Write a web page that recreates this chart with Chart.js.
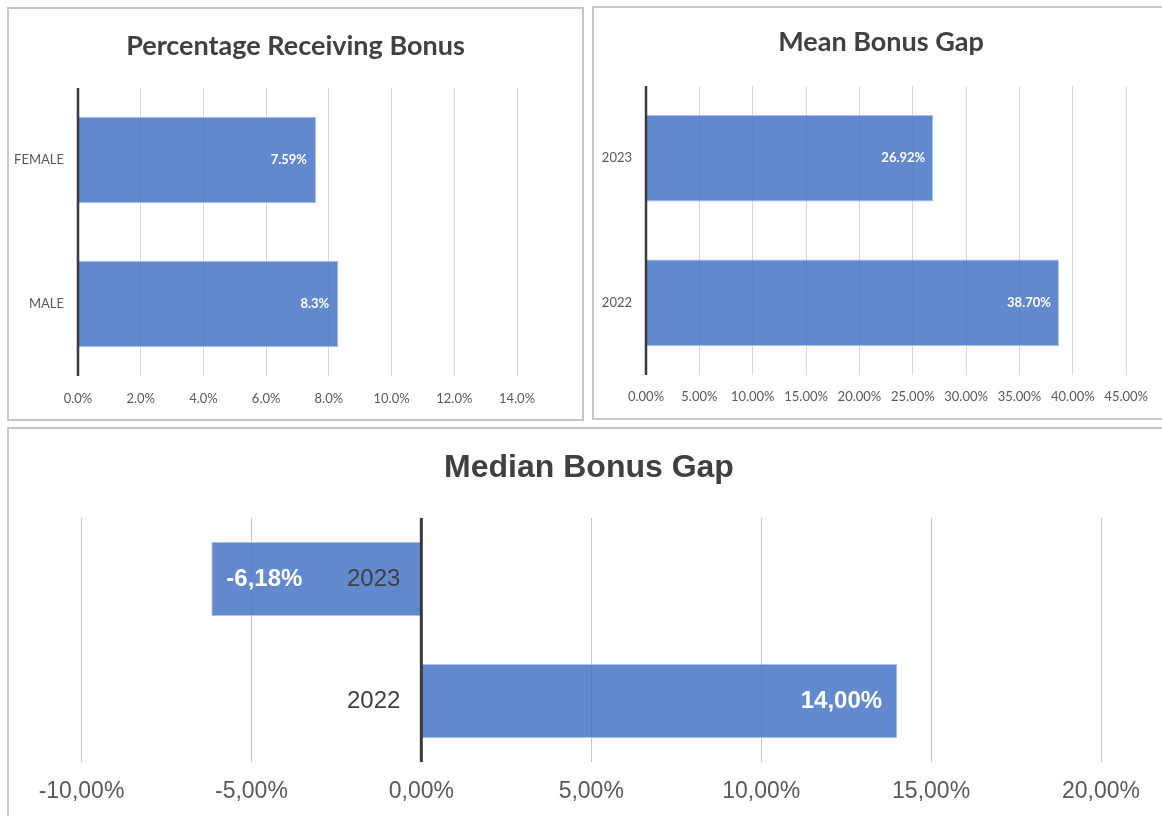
<!DOCTYPE html>
<html><head><meta charset="utf-8">
<script src="https://cdn.jsdelivr.net/npm/chart.js@4.4.1/dist/chart.umd.min.js"></script>
<style>
html,body{margin:0;padding:0;background:#fff;width:1162px;height:816px;overflow:hidden;}
body{position:relative;}
.panel{position:absolute;border:2px solid #c6c6c6;box-sizing:border-box;background:#fff;}
canvas{position:absolute;}
</style></head><body>
<div class="panel" style="left:7px;top:7px;width:577px;height:414px;"></div>
<div class="panel" style="left:592px;top:6px;width:580px;height:414px;"></div>
<div class="panel" style="left:7px;top:427px;width:1165px;height:400px;"></div>
<canvas id="c1" width="573" height="410" style="left:9px;top:9px"></canvas>
<canvas id="c2" width="568" height="409" style="left:594px;top:8px"></canvas>
<canvas id="c3" width="1153" height="386" style="left:9px;top:430px"></canvas>
<script>
// ---- data ----
const pctTitle = 'Percentage Receiving Bonus';
const pctCategories = ['FEMALE', 'MALE'];
const pctValues = [7.59, 8.3];
const pctLabels = ['7.59%', '8.3%'];
const pctAxis = {min: 0, max: 14, step: 2, decimals: 1, sep: '.'};

const meanTitle = 'Mean Bonus Gap';
const meanCategories = ['2023', '2022'];
const meanValues = [26.92, 38.70];
const meanLabels = ['26.92%', '38.70%'];
const meanAxis = {min: 0, max: 45, step: 5, decimals: 2, sep: '.'};

const medianTitle = 'Median Bonus Gap';
const medianCategories = ['2023', '2022'];
const medianValues = [-6.18, 14.00];
const medianLabels = ['-6,18%', '14,00%'];
const medianAxis = {min: -10, max: 20, step: 5, decimals: 2, sep: ','};

// ---- plugins ----
const titlePlugin = {
  id: 'panelTitle',
  afterDraw(chart, args, o) {
    const ctx = chart.ctx;
    ctx.save();
    ctx.font = o.font;
    ctx.fillStyle = o.color;
    ctx.textAlign = 'center';
    ctx.textBaseline = 'middle';
    ctx.fillText(o.text, o.x, o.y);
    ctx.restore();
  }
};
const zeroLinePlugin = {
  id: 'zeroLine',
  afterDatasetsDraw(chart, args, o) {
    const xs = chart.scales.x, a = chart.chartArea, ctx = chart.ctx;
    const px = xs.getPixelForValue(0);
    ctx.save();
    ctx.strokeStyle = o.color;
    ctx.lineWidth = o.width;
    ctx.beginPath();
    ctx.moveTo(px, a.top);
    ctx.lineTo(px, a.bottom);
    ctx.stroke();
    ctx.restore();
  }
};
const barLabelPlugin = {
  id: 'barLabels',
  afterDatasetsDraw(chart, args, o) {
    const ctx = chart.ctx;
    const meta = chart.getDatasetMeta(0);
    const vals = chart.data.datasets[0].data;
    ctx.save();
    ctx.font = o.font;
    ctx.fillStyle = o.color;
    ctx.textBaseline = 'middle';
    meta.data.forEach((bar, i) => {
      const v = vals[i];
      if (v >= 0) { ctx.textAlign = 'right'; ctx.fillText(o.labels[i], bar.x - o.inset, bar.y + (o.dy || 0)); }
      else { ctx.textAlign = 'left'; ctx.fillText(o.labels[i], bar.x + o.inset, bar.y + (o.dy || 0)); }
    });
    if (o.catLabels) {
      const px = chart.scales.x.getPixelForValue(0);
      ctx.font = o.catFont;
      ctx.fillStyle = o.catColor;
      ctx.textAlign = 'right';
      chart.data.labels.forEach((lab, i) => {
        ctx.fillText(lab, px - o.catGap, chart.scales.y.getPixelForValue(i) + (o.dy || 0));
      });
    }
    ctx.restore();
  }
};

function fmt(axis) {
  return v => v.toFixed(axis.decimals).replace('.', axis.sep) + '%';
}

function makeChart(id, p) {
  return new Chart(document.getElementById(id), {
    type: 'bar',
    data: {
      labels: p.categories,
      datasets: [{
        data: p.values,
        backgroundColor: 'rgba(68,114,196,0.84)',
        borderColor: 'rgba(160,185,230,0.9)',
        borderWidth: 1,
        barPercentage: p.barPct,
        categoryPercentage: 1
      }]
    },
    plugins: [titlePlugin, zeroLinePlugin, barLabelPlugin],
    options: {
      indexAxis: 'y',
      responsive: false,
      animation: false,
      events: [],
      layout: {padding: p.padding},
      plugins: {
        legend: {display: false},
        tooltip: {enabled: false},
        title: {display: false},
        panelTitle: p.title,
        zeroLine: p.zero,
        barLabels: p.barLabels
      },
      scales: {
        x: {
          type: 'linear',
          min: p.axis.min, max: p.axis.max,
          afterFit: s => { s.height = p.xHeight; },
          afterBuildTicks: s => {
            const t = [];
            for (let v = p.axis.min; v <= p.axis.max + 1e-9; v += p.axis.step) t.push({value: v});
            s.ticks = t;
          },
          ticks: {callback: fmt(p.axis), font: p.tickFont, color: p.tickColor, padding: p.xPad, maxRotation: 0, autoSkip: false},
          grid: {color: p.gridColor, lineWidth: 1, drawTicks: false},
          border: {display: false}
        },
        y: {
          display: p.yDisplay,
          afterFit: s => { s.width = p.yWidth; },
          ticks: {font: p.tickFont, color: p.tickColor, padding: 14},
          grid: {display: false, drawTicks: false},
          border: {display: false}
        }
      }
    }
  });
}

const calFont = {family: 'Lato', size: 13};
makeChart('c1', {
  categories: pctCategories, values: pctValues, axis: pctAxis, barPct: 0.6,
  padding: {left: 0, right: 65, top: 79, bottom: 0},
  xHeight: 43, yWidth: 69, yDisplay: true, xPad: 15,
  tickFont: calFont, tickColor: '#595959', gridColor: '#d6d6d6',
  title: {text: pctTitle, font: 'bold 27px Lato', color: '#404040', x: 286.5, y: 37},
  zero: {color: '#3a3a3a', width: 2.5},
  barLabels: {labels: pctLabels, font: 'bold 13px Lato', color: '#ffffff', inset: 9}
});
makeChart('c2', {
  categories: meanCategories, values: meanValues, axis: meanAxis, barPct: 0.6,
  padding: {left: 0, right: 30, top: 78, bottom: 0},
  xHeight: 42, yWidth: 52, yDisplay: true, xPad: 14,
  tickFont: calFont, tickColor: '#595959', gridColor: '#d6d6d6',
  title: {text: meanTitle, font: 'bold 27px Lato', color: '#404040', x: 287, y: 34},
  zero: {color: '#3a3a3a', width: 2.5},
  barLabels: {labels: meanLabels, font: 'bold 13px Lato', color: '#ffffff', inset: 8}
});
makeChart('c3', {
  categories: medianCategories, values: medianValues, axis: medianAxis, barPct: 0.607,
  padding: {left: 72.5, right: 61, top: 88, bottom: 0},
  xHeight: 54, yWidth: 0, yDisplay: false, xPad: 16,
  tickFont: {family: "'Liberation Sans', Arial, sans-serif", size: 23}, tickColor: '#595959', gridColor: '#c4c4c4',
  title: {text: medianTitle, font: "bold 32px 'Liberation Sans', Arial, sans-serif", color: '#404040', x: 580, y: 38},
  zero: {color: '#3a3a3a', width: 3},
  barLabels: {labels: medianLabels, font: "bold 24px 'Liberation Sans', Arial, sans-serif", color: '#ffffff', inset: 15,
    catLabels: true, catFont: "24px 'Liberation Sans', Arial, sans-serif", catColor: '#404040', catGap: 21}
});
</script>
</body></html>
